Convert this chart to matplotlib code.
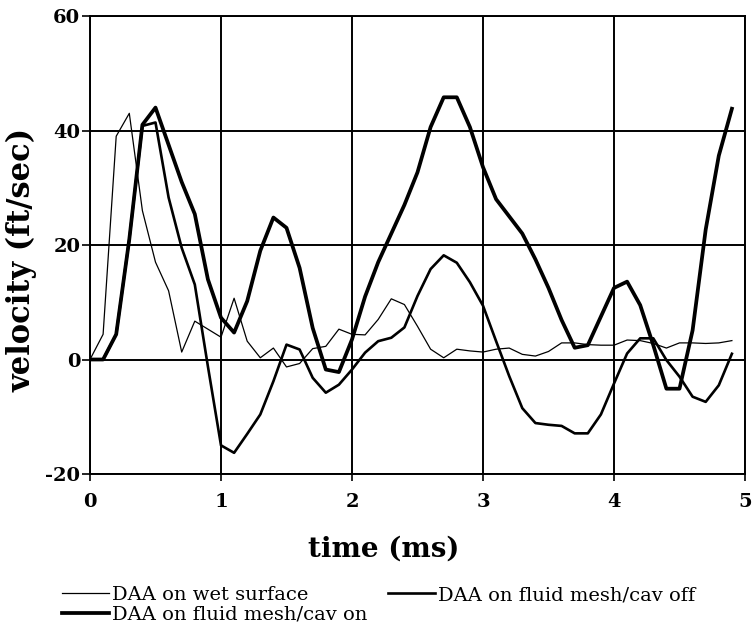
import matplotlib
matplotlib.use("Agg")
import matplotlib.pyplot as plt
from matplotlib.lines import Line2D

time_ms = [0.0, 0.1, 0.2, 0.3, 0.4, 0.5, 0.6, 0.7, 0.8, 0.9,
           1.0, 1.1, 1.2, 1.3, 1.4, 1.5, 1.6, 1.7, 1.8, 1.9,
           2.0, 2.1, 2.2, 2.3, 2.4, 2.5, 2.6, 2.7, 2.8, 2.9,
           3.0, 3.1, 3.2, 3.3, 3.4, 3.5, 3.6, 3.7, 3.8, 3.9,
           4.0, 4.1, 4.2, 4.3, 4.4, 4.5, 4.6, 4.7, 4.8, 4.9]

wet_surface = [0, 4.4, 39, 43, 26, 17, 12, 1.3, 6.7, 5.3,
               3.9, 10.7, 3.2, 0.3, 2.0, -1.3, -0.7, 1.9, 2.3, 5.3,
               4.4, 4.3, 7.0, 10.6, 9.6, 5.8, 1.8, 0.3, 1.8, 1.5,
               1.3, 1.8, 2.0, 0.9, 0.6, 1.4, 2.9, 2.9, 2.6, 2.5,
               2.5, 3.4, 3.3, 2.8, 2.0, 2.9, 2.9, 2.8, 2.9, 3.3]

cav_off = [0, 0, 4.4, 21, 40.8, 41.4, 28.3, 19.5, 13.1, -1.2,
           -15, -16.3, -13, -9.6, -3.8, 2.6, 1.75, -3.2, -5.8, -4.4,
           -1.75, 1.2, 3.2, 3.8, 5.6, 11.1, 15.8, 18.2, 16.9, 13.5,
           9.4, 3.2, -2.9, -8.5, -11.1, -11.4, -11.6, -12.9, -12.9, -9.6,
           -4.2, 1.05, 3.7, 3.7, -0.1, -3.0, -6.5, -7.4, -4.5, 1.0]

cav_on = [0, 0, 4.4, 21, 41, 44, 37.5, 31, 25.4, 14,
          7.3, 4.7, 10.2, 19, 24.8, 23, 16, 5.5, -1.75, -2.2,
          3.5, 11, 17, 22, 27, 32.7, 40.6, 45.8, 45.8, 40.6,
          33.6, 28, 25, 22, 17.5, 12.5, 6.9, 2.05, 2.5, 7.5,
          12.5, 13.6, 9.5, 2.5, -5.1, -5.1, 5.1, 22.7, 35.6, 43.8]

labels = ["DAA on wet surface", "DAA on fluid mesh/cav off", "DAA on fluid mesh/cav on"]
x_ticks = [0, 1, 2, 3, 4, 5]
y_ticks = [-20, 0, 20, 40, 60]

fig = plt.figure(figsize=(7.52, 6.28), dpi=100)
ax = fig.add_axes([90/752, 1-474/628, 655/752, 458/628])

lw_thin, lw_med, lw_thick = 0.9, 1.9, 2.7
ax.plot(time_ms, wet_surface, color="black", lw=lw_thin, zorder=3)
ax.plot(time_ms, cav_off, color="black", lw=lw_med, zorder=3)
ax.plot(time_ms, cav_on, color="black", lw=lw_thick, zorder=3)

ax.set_xlim(0, 5)
ax.set_ylim(-20, 60)
ax.set_xticks(x_ticks)
ax.set_yticks(y_ticks)
ax.grid(True, color="black", lw=1.4)
for s in ax.spines.values():
    s.set_linewidth(1.4)
    s.set_color("black")

tick_font = dict(family="DejaVu Serif", weight="bold", size=14)
ax.set_xticklabels([str(v) for v in x_ticks], fontdict=tick_font)
ax.set_yticklabels([str(v) for v in y_ticks], fontdict=tick_font)
ax.tick_params(axis="x", direction="out", length=5, width=1.2, pad=9)
ax.tick_params(axis="y", direction="out", length=6, width=1.2, pad=1)

ax.set_xlabel("time (ms)", family="DejaVu Serif", weight="bold", size=20)
ax.xaxis.set_label_coords(0.449, -0.135)
ax.set_ylabel("velocity (ft/sec)", family="DejaVu Serif", weight="bold", size=22)
ax.yaxis.set_label_coords(-0.08, 0.467)

handles = [Line2D([], [], color="black", lw=lw_thin),
           Line2D([], [], color="black", lw=lw_thick),
           Line2D([], [], color="black", lw=lw_med)]
leg_labels = [labels[0], labels[2], labels[1]]
fig.legend(handles, leg_labels, ncol=2, loc="upper left",
           bbox_to_anchor=(62/752, 1-586/628), frameon=False,
           prop=dict(family="DejaVu Serif", size=14),
           handlelength=2.4, handletextpad=0.15, columnspacing=1.1,
           labelspacing=0.08, borderpad=0, borderaxespad=0)

fig.savefig("out.png", dpi=100)
